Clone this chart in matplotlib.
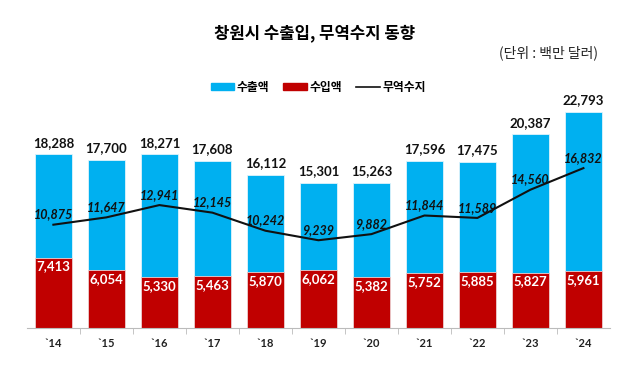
import matplotlib.pyplot as plt
from matplotlib.patches import Patch
from matplotlib.lines import Line2D

plt.rcParams['font.family'] = ['Noto Sans CJK KR', 'DejaVu Sans']

years = ['`14', '`15', '`16', '`17', '`18', '`19', '`20', '`21', '`22', '`23', '`24']
exports = [18288, 17700, 18271, 17608, 16112, 15301, 15263, 17596, 17475, 20387, 22793]
imports = [7413, 6054, 5330, 5463, 5870, 6062, 5382, 5752, 5885, 5827, 5961]
balance = [10875, 11647, 12941, 12145, 10242, 9239, 9882, 11844, 11589, 14560, 16832]

blue = '#00B0F0'
red = '#C00000'
num_font = ['Lato', 'DejaVu Sans']

fig = plt.figure(figsize=(6.4, 3.83), dpi=100)
ax = fig.add_axes([0.042, 0.1436, 0.911, 0.62])

x = list(range(len(years)))
ax.bar(x, exports, width=0.7, color=blue, edgecolor='#dff3fb', linewidth=0.6)
ax.bar(x, imports, width=0.7, color=red, edgecolor='#f0d0d0', linewidth=0.6)
ax.plot(x, balance, color='#111111', linewidth=1.5)

for i in x:
    ax.annotate(f'{exports[i]:,}', (i, exports[i]), xytext=(0, 4), textcoords='offset points',
                ha='center', va='bottom', fontsize=9.5, fontweight='bold', family=num_font, color='#111111')
    ax.annotate(f'{imports[i]:,}', (i, imports[i]), xytext=(0, -2), textcoords='offset points',
                ha='center', va='top', fontsize=9.5, fontweight='bold', family=num_font, color='white')
    ax.annotate(f'{balance[i]:,}', (i, balance[i]), xytext=(0, 3), textcoords='offset points',
                ha='center', va='bottom', fontsize=9, fontweight='bold', fontstyle='italic',
                family=num_font, color='#111111')

ax.set_xlim(-0.5, len(years) - 0.5)
ax.set_ylim(0, 25000)
ax.set_xticks(x)
ax.set_xticklabels(years, fontsize=8, fontweight='bold', family=num_font, color='#222222')
ax.set_xticks([i + 0.5 for i in x[:-1]], minor=True)
ax.tick_params(axis='x', which='major', length=0, pad=7)
ax.tick_params(axis='x', which='minor', length=4, color='#bbbbbb')
ax.set_yticks([])
for s in ['top', 'right', 'left']:
    ax.spines[s].set_visible(False)
ax.spines['bottom'].set_color('#bbbbbb')

fig.text(0.492, 0.913, '창원시 수출입, 무역수지 동향', ha='center', va='center', fontsize=12, fontweight='bold')
fig.text(0.935, 0.862, '(단위 : 백만 달러)', ha='right', va='center', fontsize=10, color='#222222')

handles = [Patch(color=blue, label='수출액'), Patch(color=red, label='수입액'),
           Line2D([0], [0], color='#111111', linewidth=1.2, label='무역수지')]
fig.legend(handles=handles, loc='center', bbox_to_anchor=(0.497, 0.772), ncol=3, frameon=False,
           handlelength=2.0, handleheight=0.6, handletextpad=0.2, columnspacing=1.2,
           prop={'weight': 'bold', 'size': 8.5})

fig.savefig('out.png', dpi=100)
